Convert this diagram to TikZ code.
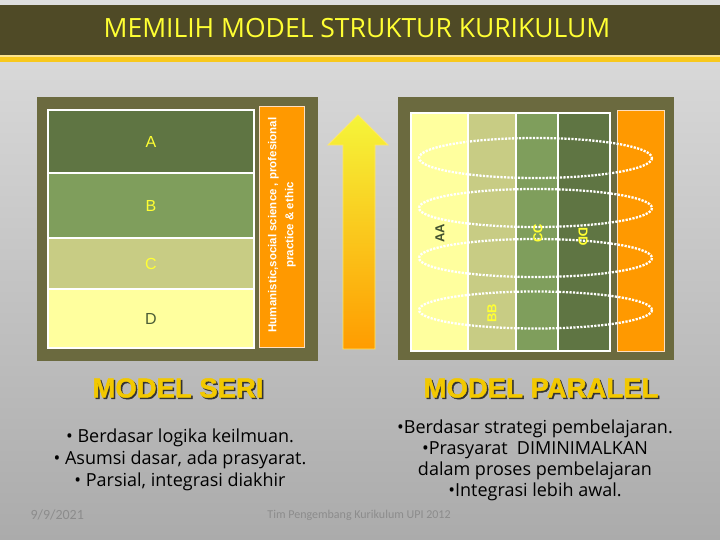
\documentclass[tikz,border=0pt]{standalone}
\usepackage{fontspec}
\setmainfont{Open Sans}
\newfontfamily\headfont{Liberation Sans}
\newfontfamily\heavyfont[UprightFont=* Bold,FakeBold=1.6]{Liberation Sans}
\newfontfamily\footfont{Carlito}

\definecolor{bgtop}{HTML}{DEDEDE}
\definecolor{bgbot}{HTML}{ABABAB}
\definecolor{barolive}{HTML}{4F4A26}
\definecolor{frameolive}{HTML}{6B6A3F}
\definecolor{greenA}{HTML}{5F7543}
\definecolor{greenB}{HTML}{7F9E5C}
\definecolor{greenC}{HTML}{C8CC84}
\definecolor{paleD}{HTML}{FFFF9E}
\definecolor{orangebox}{HTML}{FF9900}
\definecolor{titleyellow}{HTML}{FFFF33}
\definecolor{lineyellow}{HTML}{F8C81C}
\definecolor{modelyellow}{HTML}{F2C800}
\definecolor{arrowtop}{HTML}{F5F53A}
\definecolor{arrowbot}{HTML}{FF9C00}
\definecolor{footgray}{HTML}{8C8C8C}

\tikzset{
  cell/.style={draw=white, line width=1.5pt, inner sep=0pt,
    font=\headfont\fontsize{16}{18}\selectfont},
  sidebox/.style={draw=orange!25, line width=1pt, fill=orangebox, inner sep=0pt},
  tag/.style={font=\headfont\bfseries\fontsize{13}{15}\selectfont},
  ring/.style={white, line width=2.3pt, dash pattern=on 2.2pt off 1.3pt},
  modelhead/.style={font=\heavyfont\fontsize{27.5}{32}\selectfont},
  notes/.style={align=center, text=black},
  foot/.style={text=footgray, font=\footfont\fontsize{12}{14}\selectfont}
}

\begin{document}
\begin{tikzpicture}[x=1pt,y=-1pt]
  \useasboundingbox (0,0) rectangle (720,540);
  \shade[top color=bgtop, bottom color=bgbot] (0,0) rectangle (720,540);

  % title bar
  \fill[barolive] (0,5) rectangle (720,55);
  \fill[lineyellow!50] (0,55) rectangle (720,57);
  \fill[lineyellow] (0,57) rectangle (720,62);
  \node[text=titleyellow, font=\fontsize{26.5}{30}\selectfont] (title) at (357,28)
    {MEMILIH MODEL STRUKTUR KURIKULUM};

  % model seri
  \fill[frameolive] (37,97) rectangle (318,361);
  \node[cell, fill=greenA, text=titleyellow, minimum width=206pt, minimum height=63pt] (A) at (151,141.5) {A};
  \node[cell, fill=greenB, text=titleyellow, minimum width=206pt, minimum height=65pt] (B) at (151,205.5) {B};
  \node[cell, fill=greenC, text=titleyellow, minimum width=206pt, minimum height=51pt] (C) at (151,263.5) {C};
  \node[cell, fill=paleD, text=greenA!80!black, minimum width=206pt, minimum height=59pt] (D) at (151,318.5) {D};
  \node[sidebox, minimum width=45pt, minimum height=240pt] (side) at (281.5,227) {};
  \node[rotate=90, text=white, align=center,
        font=\headfont\bfseries\fontsize{11.5}{17}\selectfont] (humtext) at (282,225)
    {Humanistic,social science , profesional\\practice \& ethic};

  % arrow
  \shade[top color=arrowtop, bottom color=arrowbot, draw=orange!30!yellow!60, line width=0.8pt]
    (343,349) -- (343,145) -- (328,145) -- (358,115) -- (388,145) -- (375,145) -- (375,349) -- cycle;

  % model paralel
  \fill[frameolive] (398,97) rectangle (674,360);
  \node[cell, fill=paleD, minimum width=57pt, minimum height=238pt] (AA) at (439.5,232) {};
  \node[cell, fill=greenC, minimum width=48pt, minimum height=238pt] (BB) at (492,232) {};
  \node[cell, fill=greenB, minimum width=42pt, minimum height=238pt] (CC) at (537,232) {};
  \node[cell, fill=greenA, minimum width=52pt, minimum height=238pt] (DD) at (584,232) {};
  \node[sidebox, minimum width=47pt, minimum height=240pt] (side2) at (640.5,231) {};
  \foreach \ry/\cy in {20/158, 19/208, 19/258, 18.5/310}
    \draw[ring] (535.5,\cy) ellipse [x radius=116.5, y radius=\ry];
  \node[tag, rotate=90, text=greenA!70!black] (aalabel) at (440,233) {AA};
  \node[tag, rotate=90, text=titleyellow] (bblabel) at (492,313) {BB};
  \node[tag, rotate=90, text=titleyellow] (cclabel) at (538,233) {CC};
  \node[tag, rotate=-90, text=titleyellow] (ddlabel) at (583,237) {DD};

  % headings
  \node[modelhead, text=black!80] at (179.5,389.5) {MODEL SERI};
  \node[modelhead, text=modelyellow] (seri) at (178,388) {MODEL SERI};
  \node[modelhead, text=black!80] at (542.5,389.5) {MODEL PARALEL};
  \node[modelhead, text=modelyellow] (paralel) at (541,388) {MODEL PARALEL};

  % notes
  \node[notes, font=\fontsize{18}{22}\selectfont] (serinotes) at (180,460)
    {\textbullet{} Berdasar logika keilmuan.\\
     \textbullet{} Asumsi dasar, ada prasyarat.\\
     \textbullet{} Parsial, integrasi diakhir};
  \node[notes, font=\fontsize{18}{21}\selectfont] (paralelnotes) at (535,460)
    {\textbullet Berdasar strategi pembelajaran.\\
     \textbullet Prasyarat\ \ DIMINIMALKAN\\
     dalam proses pembelajaran\\
     \textbullet Integrasi lebih awal.};

  % footer
  \node[foot, anchor=west, font=\footfont\fontsize{14}{16}\selectfont] (date) at (27,515) {9/9/2021};
  \node[foot] (team) at (359,515) {Tim Pengembang Kurikulum UPI 2012};
\end{tikzpicture}
\end{document}
